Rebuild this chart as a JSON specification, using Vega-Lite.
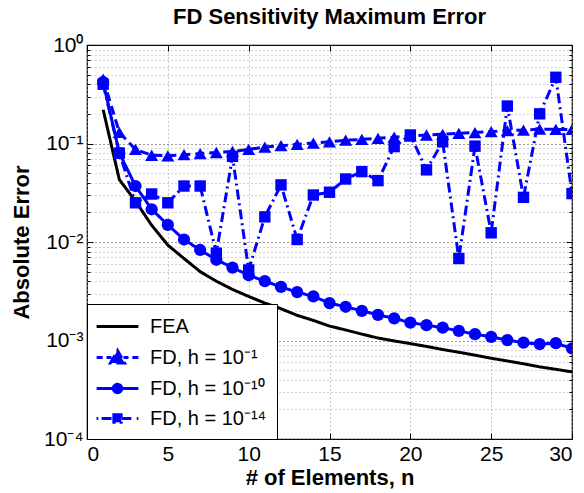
{
  "$schema": "https://vega.github.io/schema/vega-lite/v6.json",
  "width": 485,
  "height": 394,
  "autosize": {"type": "none"},
  "padding": {"left": 87, "top": 45, "right": 12, "bottom": 54},
  "background": "white",
  "title": {"text": "FD Sensitivity Maximum Error", "font": "Liberation Sans", "fontSize": 22, "fontWeight": "bold", "color": "black", "anchor": "middle", "offset": 5},
  "config": {
    "view": {"stroke": "black", "strokeWidth": 1.2},
    "font": "Liberation Sans",
    "axis": {"labelFont": "Liberation Sans", "titleFont": "Liberation Sans", "labelColor": "black", "titleColor": "black", "tickColor": "black", "gridDash": [1, 3], "gridWidth": 1}
  },
  "datasets": {
    "errs": [
      {"n": 1, "series": "FEA", "error": 0.22}, {"n": 2, "series": "FEA", "error": 0.043}, {"n": 3, "series": "FEA", "error": 0.026}, {"n": 4, "series": "FEA", "error": 0.0148}, {"n": 5, "series": "FEA", "error": 0.0093},
      {"n": 6, "series": "FEA", "error": 0.0068}, {"n": 7, "series": "FEA", "error": 0.005}, {"n": 8, "series": "FEA", "error": 0.004}, {"n": 9, "series": "FEA", "error": 0.0033}, {"n": 10, "series": "FEA", "error": 0.0028},
      {"n": 11, "series": "FEA", "error": 0.0024}, {"n": 12, "series": "FEA", "error": 0.0021}, {"n": 13, "series": "FEA", "error": 0.0018}, {"n": 14, "series": "FEA", "error": 0.0016}, {"n": 15, "series": "FEA", "error": 0.0014},
      {"n": 16, "series": "FEA", "error": 0.00128}, {"n": 17, "series": "FEA", "error": 0.00116}, {"n": 18, "series": "FEA", "error": 0.00106}, {"n": 19, "series": "FEA", "error": 0.00099}, {"n": 20, "series": "FEA", "error": 0.00093},
      {"n": 21, "series": "FEA", "error": 0.00087}, {"n": 22, "series": "FEA", "error": 0.00081}, {"n": 23, "series": "FEA", "error": 0.00076}, {"n": 24, "series": "FEA", "error": 0.00071}, {"n": 25, "series": "FEA", "error": 0.00066},
      {"n": 26, "series": "FEA", "error": 0.00062}, {"n": 27, "series": "FEA", "error": 0.00058}, {"n": 28, "series": "FEA", "error": 0.00054}, {"n": 29, "series": "FEA", "error": 0.00051}, {"n": 30, "series": "FEA", "error": 0.00048},

      {"n": 1, "series": "FD, h = 10⁻¹", "error": 0.45}, {"n": 2, "series": "FD, h = 10⁻¹", "error": 0.13}, {"n": 3, "series": "FD, h = 10⁻¹", "error": 0.087}, {"n": 4, "series": "FD, h = 10⁻¹", "error": 0.076}, {"n": 5, "series": "FD, h = 10⁻¹", "error": 0.075},
      {"n": 6, "series": "FD, h = 10⁻¹", "error": 0.077}, {"n": 7, "series": "FD, h = 10⁻¹", "error": 0.079}, {"n": 8, "series": "FD, h = 10⁻¹", "error": 0.081}, {"n": 9, "series": "FD, h = 10⁻¹", "error": 0.083}, {"n": 10, "series": "FD, h = 10⁻¹", "error": 0.087},
      {"n": 11, "series": "FD, h = 10⁻¹", "error": 0.092}, {"n": 12, "series": "FD, h = 10⁻¹", "error": 0.095}, {"n": 13, "series": "FD, h = 10⁻¹", "error": 0.098}, {"n": 14, "series": "FD, h = 10⁻¹", "error": 0.101}, {"n": 15, "series": "FD, h = 10⁻¹", "error": 0.104},
      {"n": 16, "series": "FD, h = 10⁻¹", "error": 0.108}, {"n": 17, "series": "FD, h = 10⁻¹", "error": 0.11}, {"n": 18, "series": "FD, h = 10⁻¹", "error": 0.113}, {"n": 19, "series": "FD, h = 10⁻¹", "error": 0.116}, {"n": 20, "series": "FD, h = 10⁻¹", "error": 0.119},
      {"n": 21, "series": "FD, h = 10⁻¹", "error": 0.122}, {"n": 22, "series": "FD, h = 10⁻¹", "error": 0.124}, {"n": 23, "series": "FD, h = 10⁻¹", "error": 0.127}, {"n": 24, "series": "FD, h = 10⁻¹", "error": 0.129}, {"n": 25, "series": "FD, h = 10⁻¹", "error": 0.132},
      {"n": 26, "series": "FD, h = 10⁻¹", "error": 0.135}, {"n": 27, "series": "FD, h = 10⁻¹", "error": 0.137}, {"n": 28, "series": "FD, h = 10⁻¹", "error": 0.14}, {"n": 29, "series": "FD, h = 10⁻¹", "error": 0.139}, {"n": 30, "series": "FD, h = 10⁻¹", "error": 0.139},

      {"n": 1, "series": "FD, h = 10⁻¹⁰", "error": 0.42}, {"n": 2, "series": "FD, h = 10⁻¹⁰", "error": 0.08}, {"n": 3, "series": "FD, h = 10⁻¹⁰", "error": 0.037}, {"n": 4, "series": "FD, h = 10⁻¹⁰", "error": 0.0215}, {"n": 5, "series": "FD, h = 10⁻¹⁰", "error": 0.0149},
      {"n": 6, "series": "FD, h = 10⁻¹⁰", "error": 0.0106}, {"n": 7, "series": "FD, h = 10⁻¹⁰", "error": 0.0083}, {"n": 8, "series": "FD, h = 10⁻¹⁰", "error": 0.0066}, {"n": 9, "series": "FD, h = 10⁻¹⁰", "error": 0.0055}, {"n": 10, "series": "FD, h = 10⁻¹⁰", "error": 0.0046},
      {"n": 11, "series": "FD, h = 10⁻¹⁰", "error": 0.004}, {"n": 12, "series": "FD, h = 10⁻¹⁰", "error": 0.0035}, {"n": 13, "series": "FD, h = 10⁻¹⁰", "error": 0.0031}, {"n": 14, "series": "FD, h = 10⁻¹⁰", "error": 0.0028}, {"n": 15, "series": "FD, h = 10⁻¹⁰", "error": 0.0024},
      {"n": 16, "series": "FD, h = 10⁻¹⁰", "error": 0.0022}, {"n": 17, "series": "FD, h = 10⁻¹⁰", "error": 0.002}, {"n": 18, "series": "FD, h = 10⁻¹⁰", "error": 0.00182}, {"n": 19, "series": "FD, h = 10⁻¹⁰", "error": 0.00168}, {"n": 20, "series": "FD, h = 10⁻¹⁰", "error": 0.00152},
      {"n": 21, "series": "FD, h = 10⁻¹⁰", "error": 0.00143}, {"n": 22, "series": "FD, h = 10⁻¹⁰", "error": 0.00135}, {"n": 23, "series": "FD, h = 10⁻¹⁰", "error": 0.00125}, {"n": 24, "series": "FD, h = 10⁻¹⁰", "error": 0.00116}, {"n": 25, "series": "FD, h = 10⁻¹⁰", "error": 0.00109},
      {"n": 26, "series": "FD, h = 10⁻¹⁰", "error": 0.00101}, {"n": 27, "series": "FD, h = 10⁻¹⁰", "error": 0.00095}, {"n": 28, "series": "FD, h = 10⁻¹⁰", "error": 0.00092}, {"n": 29, "series": "FD, h = 10⁻¹⁰", "error": 0.00094}, {"n": 30, "series": "FD, h = 10⁻¹⁰", "error": 0.00083},

      {"n": 1, "series": "FD, h = 10⁻¹⁴", "error": 0.4}, {"n": 2, "series": "FD, h = 10⁻¹⁴", "error": 0.08}, {"n": 3, "series": "FD, h = 10⁻¹⁴", "error": 0.025}, {"n": 4, "series": "FD, h = 10⁻¹⁴", "error": 0.0307}, {"n": 5, "series": "FD, h = 10⁻¹⁴", "error": 0.025},
      {"n": 6, "series": "FD, h = 10⁻¹⁴", "error": 0.037}, {"n": 7, "series": "FD, h = 10⁻¹⁴", "error": 0.037}, {"n": 8, "series": "FD, h = 10⁻¹⁴", "error": 0.0077}, {"n": 9, "series": "FD, h = 10⁻¹⁴", "error": 0.074}, {"n": 10, "series": "FD, h = 10⁻¹⁴", "error": 0.0052},
      {"n": 11, "series": "FD, h = 10⁻¹⁴", "error": 0.018}, {"n": 12, "series": "FD, h = 10⁻¹⁴", "error": 0.038}, {"n": 13, "series": "FD, h = 10⁻¹⁴", "error": 0.0106}, {"n": 14, "series": "FD, h = 10⁻¹⁴", "error": 0.03}, {"n": 15, "series": "FD, h = 10⁻¹⁴", "error": 0.032},
      {"n": 16, "series": "FD, h = 10⁻¹⁴", "error": 0.0436}, {"n": 17, "series": "FD, h = 10⁻¹⁴", "error": 0.0518}, {"n": 18, "series": "FD, h = 10⁻¹⁴", "error": 0.042}, {"n": 19, "series": "FD, h = 10⁻¹⁴", "error": 0.093}, {"n": 20, "series": "FD, h = 10⁻¹⁴", "error": 0.122},
      {"n": 21, "series": "FD, h = 10⁻¹⁴", "error": 0.054}, {"n": 22, "series": "FD, h = 10⁻¹⁴", "error": 0.104}, {"n": 23, "series": "FD, h = 10⁻¹⁴", "error": 0.0068}, {"n": 24, "series": "FD, h = 10⁻¹⁴", "error": 0.094}, {"n": 25, "series": "FD, h = 10⁻¹⁴", "error": 0.0124},
      {"n": 26, "series": "FD, h = 10⁻¹⁴", "error": 0.24}, {"n": 27, "series": "FD, h = 10⁻¹⁴", "error": 0.0284}, {"n": 28, "series": "FD, h = 10⁻¹⁴", "error": 0.2}, {"n": 29, "series": "FD, h = 10⁻¹⁴", "error": 0.47}, {"n": 30, "series": "FD, h = 10⁻¹⁴", "error": 0.031}
    ]
  },
  "data": {"name": "errs"},
  "resolve": {"axis": {"x": "independent", "y": "independent"}},
  "layer": [
    {
      "mark": {"type": "line", "strokeWidth": 3, "clip": true},
      "encoding": {
        "x": {"field": "n", "type": "quantitative", "scale": {"domain": [0, 30], "nice": false},
          "axis": {"title": "# of Elements, n", "values": [0, 5, 10, 15, 20, 25, 30], "grid": true, "gridColor": "#999999", "tickSize": -6, "domain": false, "labelFontSize": 21, "labelPadding": 10, "titleFontSize": 22, "titleFontWeight": "bold", "titlePadding": 3}},
        "y": {"field": "error", "type": "quantitative", "scale": {"type": "log", "domain": [0.0001, 1], "nice": false},
          "axis": {"title": "Absolute Error", "titleFontSize": 22, "titleFontWeight": "bold", "titlePadding": 10, "domain": false,
            "values": [0.0001, 0.0002, 0.0003, 0.0004, 0.0005, 0.0006, 0.0007, 0.0008, 0.0009, 0.001, 0.002, 0.003, 0.004, 0.005, 0.006, 0.007, 0.008, 0.009, 0.01, 0.02, 0.03, 0.04, 0.05, 0.06, 0.07, 0.08, 0.09, 0.1, 0.2, 0.3, 0.4, 0.5, 0.6, 0.7, 0.8, 0.9, 1],
            "labelExpr": "abs(datum.value-1)<1e-9 ? '10⁰' : abs(datum.value-0.1)<1e-9 ? '10⁻¹' : abs(datum.value-0.01)<1e-10 ? '10⁻²' : abs(datum.value-0.001)<1e-11 ? '10⁻³' : abs(datum.value-0.0001)<1e-12 ? '10⁻⁴' : ''",
            "labelOverlap": false, "labelFontSize": 21, "labelPadding": 10,
            "grid": true,
            "gridColor": {"condition": {"test": "abs(log(datum.value)/LN10 - round(log(datum.value)/LN10)) < 0.001", "value": "#333333"}, "value": "#aaaaaa"},
            "tickSize": {"condition": {"test": "abs(log(datum.value)/LN10 - round(log(datum.value)/LN10)) < 0.001", "value": -6}, "value": -3}}},
        "color": {"field": "series", "type": "nominal",
          "scale": {"domain": ["FEA", "FD, h = 10⁻¹", "FD, h = 10⁻¹⁰", "FD, h = 10⁻¹⁴"], "range": ["#000000", "#0000ff", "#0000ff", "#0000ff"]},
          "legend": {"title": null, "orient": "bottom-left", "offset": 0, "padding": 10, "fillColor": "white", "strokeColor": "black",
            "labelFont": "Liberation Sans", "labelFontSize": 20, "labelColor": "black",
            "symbolSize": 484, "symbolStrokeWidth": 3, "symbolOffset": 8, "labelOffset": 20, "rowPadding": 7,
            "encode": {"symbols": {"update": {
              "shape": {"signal": "datum.value === 'FEA' ? 'M-1.9,0H1.9' : datum.value === 'FD, h = 10⁻¹' ? 'M-1.9,0H-1.35M-1.0,0H-0.55M0.55,0H1.0M1.35,0H1.9M-0.64,0.5L0,-0.64L0.64,0.5Z' : datum.value === 'FD, h = 10⁻¹⁰' ? 'M-1.9,0H1.9M0.38,0A0.38,0.38,0,1,1,-0.38,0A0.38,0.38,0,1,1,0.38,0Z' : 'M-1.9,0H-1.75M-1.45,0H-0.35M0.35,0H1.45M1.75,0H1.9M-0.33,-0.33H0.33V0.33H-0.33Z'"},
              "fill": {"signal": "datum.value === 'FEA' ? 'black' : '#0000ff'"},
              "stroke": {"signal": "datum.value === 'FEA' ? 'black' : '#0000ff'"},
              "strokeDash": {"value": [1, 0]},
              "strokeWidth": {"value": 3},
              "opacity": {"value": 1}
            }}}}},
        "strokeDash": {"field": "series", "type": "nominal",
          "scale": {"domain": ["FEA", "FD, h = 10⁻¹", "FD, h = 10⁻¹⁰", "FD, h = 10⁻¹⁴"], "range": [[1, 0], [9, 5], [1, 0], [10, 4, 2, 4]]},
          "legend": null}
      }
    },
    {
      "transform": [{"filter": "datum.series !== 'FEA'"}],
      "mark": {"type": "point", "filled": true, "opacity": 1, "color": "#0000ff", "clip": true},
      "encoding": {
        "x": {"field": "n", "type": "quantitative", "scale": {"domain": [0, 30], "nice": false},
          "axis": {"orient": "top", "title": null, "labels": false, "grid": false, "domain": false, "tickSize": -6, "values": [0, 5, 10, 15, 20, 25, 30]}},
        "y": {"field": "error", "type": "quantitative", "scale": {"type": "log", "domain": [0.0001, 1], "nice": false},
          "axis": {"orient": "right", "title": null, "labels": false, "grid": false, "domain": false,
            "values": [0.0001, 0.0002, 0.0003, 0.0004, 0.0005, 0.0006, 0.0007, 0.0008, 0.0009, 0.001, 0.002, 0.003, 0.004, 0.005, 0.006, 0.007, 0.008, 0.009, 0.01, 0.02, 0.03, 0.04, 0.05, 0.06, 0.07, 0.08, 0.09, 0.1, 0.2, 0.3, 0.4, 0.5, 0.6, 0.7, 0.8, 0.9, 1],
            "tickSize": {"condition": {"test": "abs(log(datum.value)/LN10 - round(log(datum.value)/LN10)) < 0.001", "value": -6}, "value": -3}}},
        "shape": {"field": "series", "type": "nominal",
          "scale": {"domain": ["FD, h = 10⁻¹", "FD, h = 10⁻¹⁰", "FD, h = 10⁻¹⁴"], "range": ["triangle-up", "circle", "square"]}, "legend": null},
        "size": {"field": "series", "type": "nominal",
          "scale": {"domain": ["FD, h = 10⁻¹", "FD, h = 10⁻¹⁰", "FD, h = 10⁻¹⁴"], "range": [170, 130, 115]}, "legend": null}
      }
    }
  ]
}
